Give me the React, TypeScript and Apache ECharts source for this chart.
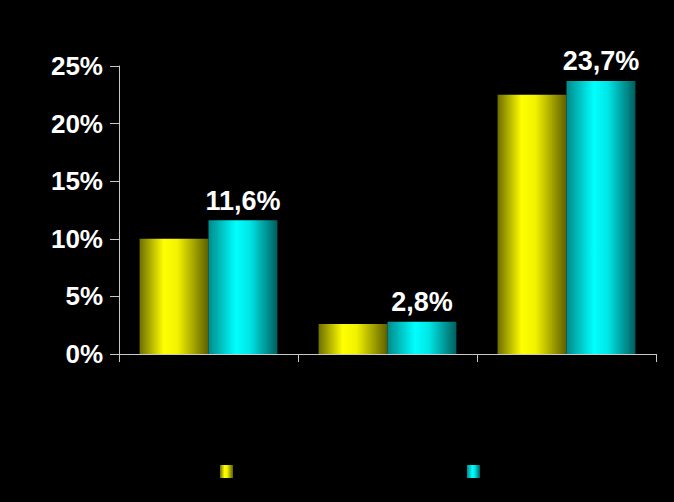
import React, { useEffect, useRef } from "react";
import * as echarts from "echarts";

const categories = ["Grupo 1", "Grupo 2", "Grupo 3"];
const seriesNames = ["Serie A", "Serie B"];
const yellowValues = [10.0, 2.6, 22.5];
const cyanValues = [11.6, 2.8, 23.7];
const yTicks = [0, 5, 10, 15, 20, 25];

const yellowGrad = () =>
  new echarts.graphic.LinearGradient(0, 0, 1, 0, [
    { offset: 0, color: "#6e6e00" },
    { offset: 0.35, color: "#ffff00" },
    { offset: 0.55, color: "#f2f200" },
    { offset: 1, color: "#5e5e00" },
  ]);
const cyanGrad = () =>
  new echarts.graphic.LinearGradient(0, 0, 1, 0, [
    { offset: 0, color: "#008a8a" },
    { offset: 0.4, color: "#00ffff" },
    { offset: 0.6, color: "#00e6e6" },
    { offset: 1, color: "#005e5e" },
  ]);

export default function App() {
  const ref = useRef<HTMLDivElement>(null);
  useEffect(() => {
    const chart = echarts.init(ref.current!, null, { renderer: "svg" });
    const font = "'Liberation Sans', Arial, sans-serif";
    const legendBase = {
      top: 465,
      padding: 0,
      itemWidth: 13,
      itemHeight: 13,
      icon: "rect",
      formatter: () => "",
      selectedMode: false,
    };
    chart.setOption({
      animation: false,
      backgroundColor: "#000000",
      grid: { left: 119, right: 18, top: 66, bottom: 148, containLabel: false },
      legend: [
        { ...legendBase, left: 220, data: [seriesNames[0]] },
        { ...legendBase, left: 467, data: [seriesNames[1]] },
      ],
      xAxis: {
        type: "category",
        data: categories,
        boundaryGap: true,
        axisLine: { lineStyle: { color: "#c8c8c8", width: 1 } },
        axisTick: { show: true, length: 8, lineStyle: { color: "#c8c8c8" } },
        axisLabel: { show: false },
      },
      yAxis: {
        type: "value",
        min: yTicks[0],
        max: yTicks[yTicks.length - 1],
        interval: 5,
        splitLine: { show: false },
        axisLine: { show: true, lineStyle: { color: "#c8c8c8", width: 1 } },
        axisTick: { show: true, length: 9, lineStyle: { color: "#c8c8c8" } },
        axisLabel: {
          color: "#ffffff",
          fontFamily: font,
          fontWeight: "bold",
          fontSize: 26,
          margin: 16,
          formatter: (v: number) => `${v}%`,
        },
      },
      series: [
        {
          name: seriesNames[0],
          type: "bar",
          data: yellowValues,
          barGap: "0%",
          barCategoryGap: "23%",
          itemStyle: { color: yellowGrad() },
        },
        {
          name: seriesNames[1],
          type: "bar",
          data: cyanValues,
          itemStyle: { color: cyanGrad() },
          label: {
            show: true,
            position: "top",
            distance: 6,
            color: "#ffffff",
            fontFamily: font,
            fontWeight: "bold",
            fontSize: 27,
            formatter: (p: any) => `${p.value.toFixed(1).replace(".", ",")}%`,
          },
        },
      ],
    });
    return () => chart.dispose();
  }, []);
  return (
    <div
      ref={ref}
      style={{ position: "fixed", left: 0, top: 0, width: 674, height: 502, background: "#000" }}
    />
  );
}
